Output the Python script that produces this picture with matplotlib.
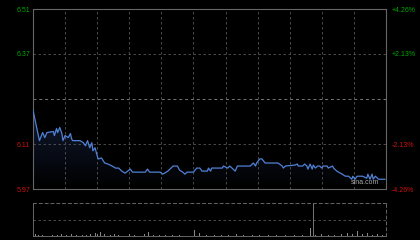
import matplotlib.pyplot as plt
import numpy as np

# intraday price (minutes from open, price)
minutes = [0, 6, 9, 11, 13, 19, 20, 22, 23, 25, 27, 28, 30, 33, 35, 36, 37, 44, 47, 49,
           51, 53, 55, 56, 58, 60, 61, 64, 67, 70, 74, 77, 80, 83, 86, 91, 93, 105, 107, 109,
           119, 121, 123, 126, 131, 135, 137, 140, 142, 144, 150, 153, 156, 158, 163, 164, 166, 167,
           177, 178, 182, 184, 187, 189, 191, 203, 206, 208, 209, 212, 214, 217, 229, 233, 234,
           236, 245, 247, 248, 252, 254, 256, 257, 259, 261, 262, 264, 266, 268, 270, 271, 275,
           276, 280, 281, 284, 289, 292, 295, 298, 299, 301, 303, 308, 312, 313, 315, 317, 318,
           320, 323, 329]
prices = [6.207, 6.117, 6.141, 6.126, 6.141, 6.144, 6.132, 6.153, 6.141, 6.156, 6.138, 6.117,
          6.132, 6.126, 6.138, 6.123, 6.117, 6.117, 6.111, 6.102, 6.117, 6.096, 6.111, 6.087,
          6.096, 6.072, 6.063, 6.066, 6.051, 6.048, 6.042, 6.036, 6.036, 6.027, 6.021, 6.033,
          6.024, 6.024, 6.033, 6.024, 6.024, 6.018, 6.021, 6.027, 6.042, 6.042, 6.030, 6.024,
          6.018, 6.024, 6.024, 6.036, 6.036, 6.027, 6.027, 6.036, 6.027, 6.036, 6.036, 6.042,
          6.036, 6.042, 6.033, 6.027, 6.042, 6.042, 6.051, 6.042, 6.051, 6.063, 6.063, 6.051,
          6.051, 6.042, 6.036, 6.042, 6.045, 6.048, 6.042, 6.042, 6.048, 6.042, 6.033, 6.048,
          6.033, 6.045, 6.036, 6.042, 6.042, 6.036, 6.042, 6.042, 6.036, 6.042, 6.036, 6.027,
          6.018, 6.012, 6.012, 6.003, 6.012, 6.003, 6.012, 6.012, 6.006, 6.018, 6.003, 6.018,
          6.003, 6.012, 6.003, 6.003]

# volume bars
vol_minutes = [2, 5, 9, 14, 18, 23, 27, 31, 36, 41, 46, 50, 54, 58, 60, 63, 67, 72, 76, 80,
               86, 90, 95, 100, 104, 108, 113, 118, 124, 130, 137, 143, 151, 156, 162, 170,
               176, 183, 190, 197, 205, 212, 220, 228, 236, 244, 252, 259, 264, 270, 276,
               282, 288, 294, 299, 303, 308, 313, 317, 322, 327]
volumes = [6, 4, 3, 5, 3, 4, 6, 3, 5, 3, 3, 4, 6, 8, 5, 12, 6, 4, 5, 3,
           30, 5, 4, 3, 5, 12, 3, 4, 3, 4, 3, 3, 18, 8, 3, 3,
           4, 3, 6, 3, 3, 4, 3, 3, 3, 3, 4, 25, 4, 6, 3,
           4, 6, 8, 5, 15, 6, 8, 4, 6, 3]

prev_close = 6.24
pct_ticks = [-4.26, -2.13, 2.13, 4.26]

green = '#00a800'
red = '#d01010'

fig = plt.figure(figsize=(4.2, 2.4), dpi=100, facecolor='black')
ax = fig.add_axes([0.0786, 0.2125, 0.8405, 0.75], facecolor='black')
axv = fig.add_axes([0.0786, 0.0167, 0.8405, 0.137], facecolor='black')

ax.set_xlim(0, 330)
lo = prev_close * (1 - 0.0426)
hi = prev_close * (1 + 0.0426)
ax.set_ylim(lo, hi)

# grid
for m in range(30, 330, 30):
    ax.axvline(m, color='#555555', lw=0.6, ls=(0, (3, 3)))
for p in pct_ticks[1:3]:
    ax.axhline(prev_close * (1 + p / 100), color='#555555', lw=0.6, ls=(0, (3, 3)))
ax.axhline(prev_close, color='#777777', lw=0.7, ls=(0, (3, 3)))

# gradient fill under the line
top = max(prices)
poly = ax.fill_between(minutes, prices, lo, color='none', zorder=1)
grad = np.linspace(0, 1, 100).reshape(-1, 1)
cmap = plt.matplotlib.colors.LinearSegmentedColormap.from_list('g', ['#000000', '#111a30'])
img = ax.imshow(grad, extent=[0, 330, lo, top], origin='lower', aspect='auto',
                cmap=cmap, zorder=1)
img.set_clip_path(poly.get_paths()[0], transform=ax.transData)
ax.set_xlim(0, 330)
ax.set_ylim(lo, hi)
ax.plot(minutes, prices, color='#4f82d6', lw=0.9, zorder=3)

for s in ax.spines.values():
    s.set_color('#666666')
    s.set_linewidth(0.8)

tick_vals = [prev_close * (1 + p / 100) for p in pct_ticks]
ax.set_xticks([])
ax.set_yticks(tick_vals)
ax.set_yticklabels(['%.2f' % v for v in tick_vals], fontsize=5, family='Liberation Sans')
ax.tick_params(axis='y', length=0, pad=2)
for lab, p in zip(ax.get_yticklabels(), pct_ticks):
    lab.set_color(green if p > 0 else red)

ax2 = ax.twinx()
ax2.set_ylim(lo, hi)
ax2.set_yticks(tick_vals)
ax2.set_yticklabels(['%+.2f%%' % p for p in pct_ticks], fontsize=5, family='Liberation Sans')
ax2.tick_params(axis='y', length=0, pad=4)
for lab, p in zip(ax2.get_yticklabels(), pct_ticks):
    lab.set_color(green if p > 0 else red)
for s in ax2.spines.values():
    s.set_visible(False)

ax.text(0.94, 0.015, 'sina.com', transform=ax.transAxes, fontsize=5, color='#aaaaaa',
        ha='center', va='bottom', family='Liberation Sans', zorder=4)

# volume panel
axv.set_xlim(0, 330)
axv.set_ylim(0, 100)
axv.bar(vol_minutes, volumes, width=0.9, color='#888888')
axv.axhline(50, color='#555555', lw=0.6, ls=(0, (3, 3)))
axv.axvline(262, color='#777777', lw=0.7)
axv.set_xticks([])
axv.set_yticks([])
for name, s in axv.spines.items():
    s.set_color('#666666')
    s.set_linewidth(0.7)
    if name in ('top', 'right'):
        s.set_linestyle((0, (3, 3)))

fig.savefig('out.png', dpi=100, facecolor='black')
